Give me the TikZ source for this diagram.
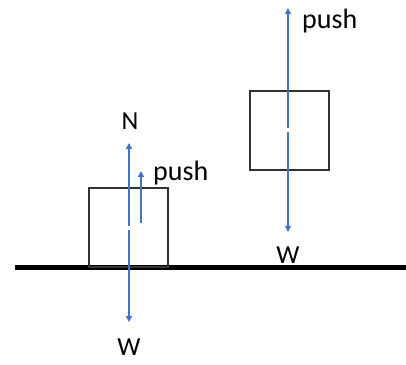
\documentclass[tikz,border=0pt]{standalone}
\usepackage{fontspec}
\setmainfont{Carlito}
\usetikzlibrary{arrows.meta}
\definecolor{forceblue}{HTML}{4472C4}
\definecolor{boxgray}{HTML}{333333}
\tikzset{
  force/.style={draw=forceblue, line width=1.6pt, -{Triangle[length=6pt,width=6pt]}},
  block/.style={draw=boxgray, line width=1.6pt},
  lbl/.style={font=\fontsize{26}{28}\selectfont, inner sep=0pt},
  plbl/.style={font=\fontsize{28}{30}\selectfont, inner sep=0pt},
}
\begin{document}
\begin{tikzpicture}[x=1pt,y=1pt]
\useasboundingbox (0,0) rectangle (406,364);
% ground
\coordinate (gL) at (15,97);
\coordinate (gR) at (406,97);
\draw[line width=5pt] (gL) -- (gR);
% left block
\draw[block] (89,97) rectangle (168,176);
\coordinate (lUp0) at (129,138);
\coordinate (lUp1) at (129,221);
\coordinate (lDn0) at (129,134);
\coordinate (lDn1) at (129,42);
\draw[force] (lUp0) -- (lUp1);
\draw[force] (lDn0) -- (lDn1);
\coordinate (lP0) at (141,141);
\coordinate (lP1) at (141,193);
\draw[force] (lP0) -- (lP1);
\node[lbl, anchor=base] (N) at (130,234) {N};
\node[plbl, anchor=base west] (pushL) at (153,183) {push};
\node[lbl, anchor=base] (WL) at (129,9) {W};
% right block
\draw[block] (250,194) rectangle (329,273);
\coordinate (rUp0) at (288,236);
\coordinate (rUp1) at (288,356);
\coordinate (rDn0) at (288,232);
\coordinate (rDn1) at (288,132);
\draw[force] (rUp0) -- (rUp1);
\draw[force] (rDn0) -- (rDn1);
\node[plbl, anchor=base west] (pushR) at (302,335) {push};
\node[lbl, anchor=base] (WR) at (288,101) {W};
\end{tikzpicture}
\end{document}
